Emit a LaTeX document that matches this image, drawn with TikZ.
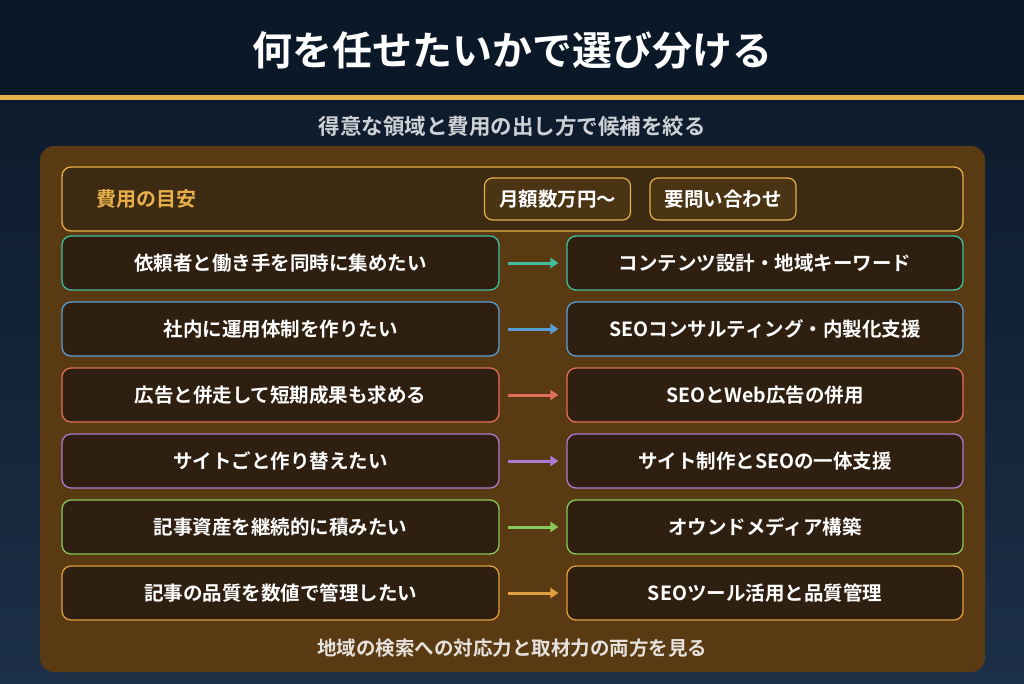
\documentclass[tikz,border=0pt]{standalone}
\usepackage{fontspec}
\setmainfont{Noto Sans CJK JP}[BoldFont={* Bold}]
\begin{document}
\begin{tikzpicture}[x=1pt,y=-1pt,
 box/.style={draw=#1,line width=1.3pt,rounded corners=9pt,fill=boxbg,text=white,font=\bfseries\fontsize{19.5}{22}\selectfont},
 arr/.style={draw=#1,line width=3pt,-{Triangle[length=8pt,width=10pt]}},
 pill/.style={draw=gold,line width=1.2pt,rounded corners=8pt,fill=pillbg,text=white,font=\bfseries\fontsize{19.5}{22}\selectfont,minimum width=146pt,minimum height=42pt,inner xsep=2pt}]
\usetikzlibrary{arrows.meta}
\definecolor{navyA}{HTML}{0B1828}
\definecolor{navyB}{HTML}{1B2F47}
\definecolor{gold}{HTML}{E8B04A}
\definecolor{panel}{HTML}{5A3A12}
\definecolor{boxbg}{HTML}{2E1F10}
\definecolor{pillbg}{HTML}{4A3414}
\definecolor{hdrbg}{HTML}{3D2A12}
\definecolor{c1}{HTML}{3FBFA0}
\definecolor{c2}{HTML}{5A9FD4}
\definecolor{c3}{HTML}{E0705A}
\definecolor{c4}{HTML}{B07AD0}
\definecolor{c5}{HTML}{8AC85A}
\definecolor{c6}{HTML}{E0A040}
\useasboundingbox (0,0) rectangle (1024,683);
\shade[top color=navyA,bottom color=navyB] (0,0) rectangle (1024,683);
\fill[navyA] (0,0) rectangle (1024,95);
\fill[gold] (0,95) rectangle (1024,100);
\node[text=white,font=\bfseries\fontsize{40}{46}\selectfont] (title) at (512,50) {何を任せたいかで選び分ける};
\node[text=white!78!navyB,font=\bfseries\fontsize{21.5}{24}\selectfont] (sub) at (512,126) {得意な領域と費用の出し方で候補を絞る};
\fill[panel,rounded corners=14pt] (40,146) rectangle (985,672);
\draw[gold,line width=1.3pt,fill=hdrbg,rounded corners=9pt] (62,167) rectangle (963,231);
\node[anchor=west,text=gold,font=\bfseries\fontsize{20}{23}\selectfont] (hd) at (93,199) {費用の目安};
\node[pill] (p1) at (557.5,199) {月額数万円〜};
\node[pill] (p2) at (723,199) {要問い合わせ};
\foreach \i/\c/\l/\r in {0/c1/依頼者と働き手を同時に集めたい/コンテンツ設計・地域キーワード,
 1/c2/社内に運用体制を作りたい/SEOコンサルティング・内製化支援,
 2/c3/広告と併走して短期成果も求める/SEOとWeb広告の併用,
 3/c4/サイトごと作り替えたい/サイト制作とSEOの一体支援,
 4/c5/記事資産を継続的に積みたい/オウンドメディア構築,
 5/c6/記事の品質を数値で管理したい/SEOツール活用と品質管理}{
 \pgfmathsetmacro\yy{263+66*\i}
 \node[box=\c,minimum width=437pt,minimum height=54pt] (L\i) at (280.5,\yy) {\l};
 \node[box=\c,minimum width=396pt,minimum height=54pt] (R\i) at (765,\yy) {\r};
 \draw[arr=\c] ([xshift=8pt]L\i.east) -- ([xshift=-8pt]R\i.west);
}
\node[text=white!85!panel,font=\bfseries\fontsize{19.5}{22}\selectfont] (foot) at (512,648) {地域の検索への対応力と取材力の両方を見る};
\end{tikzpicture}
\end{document}
